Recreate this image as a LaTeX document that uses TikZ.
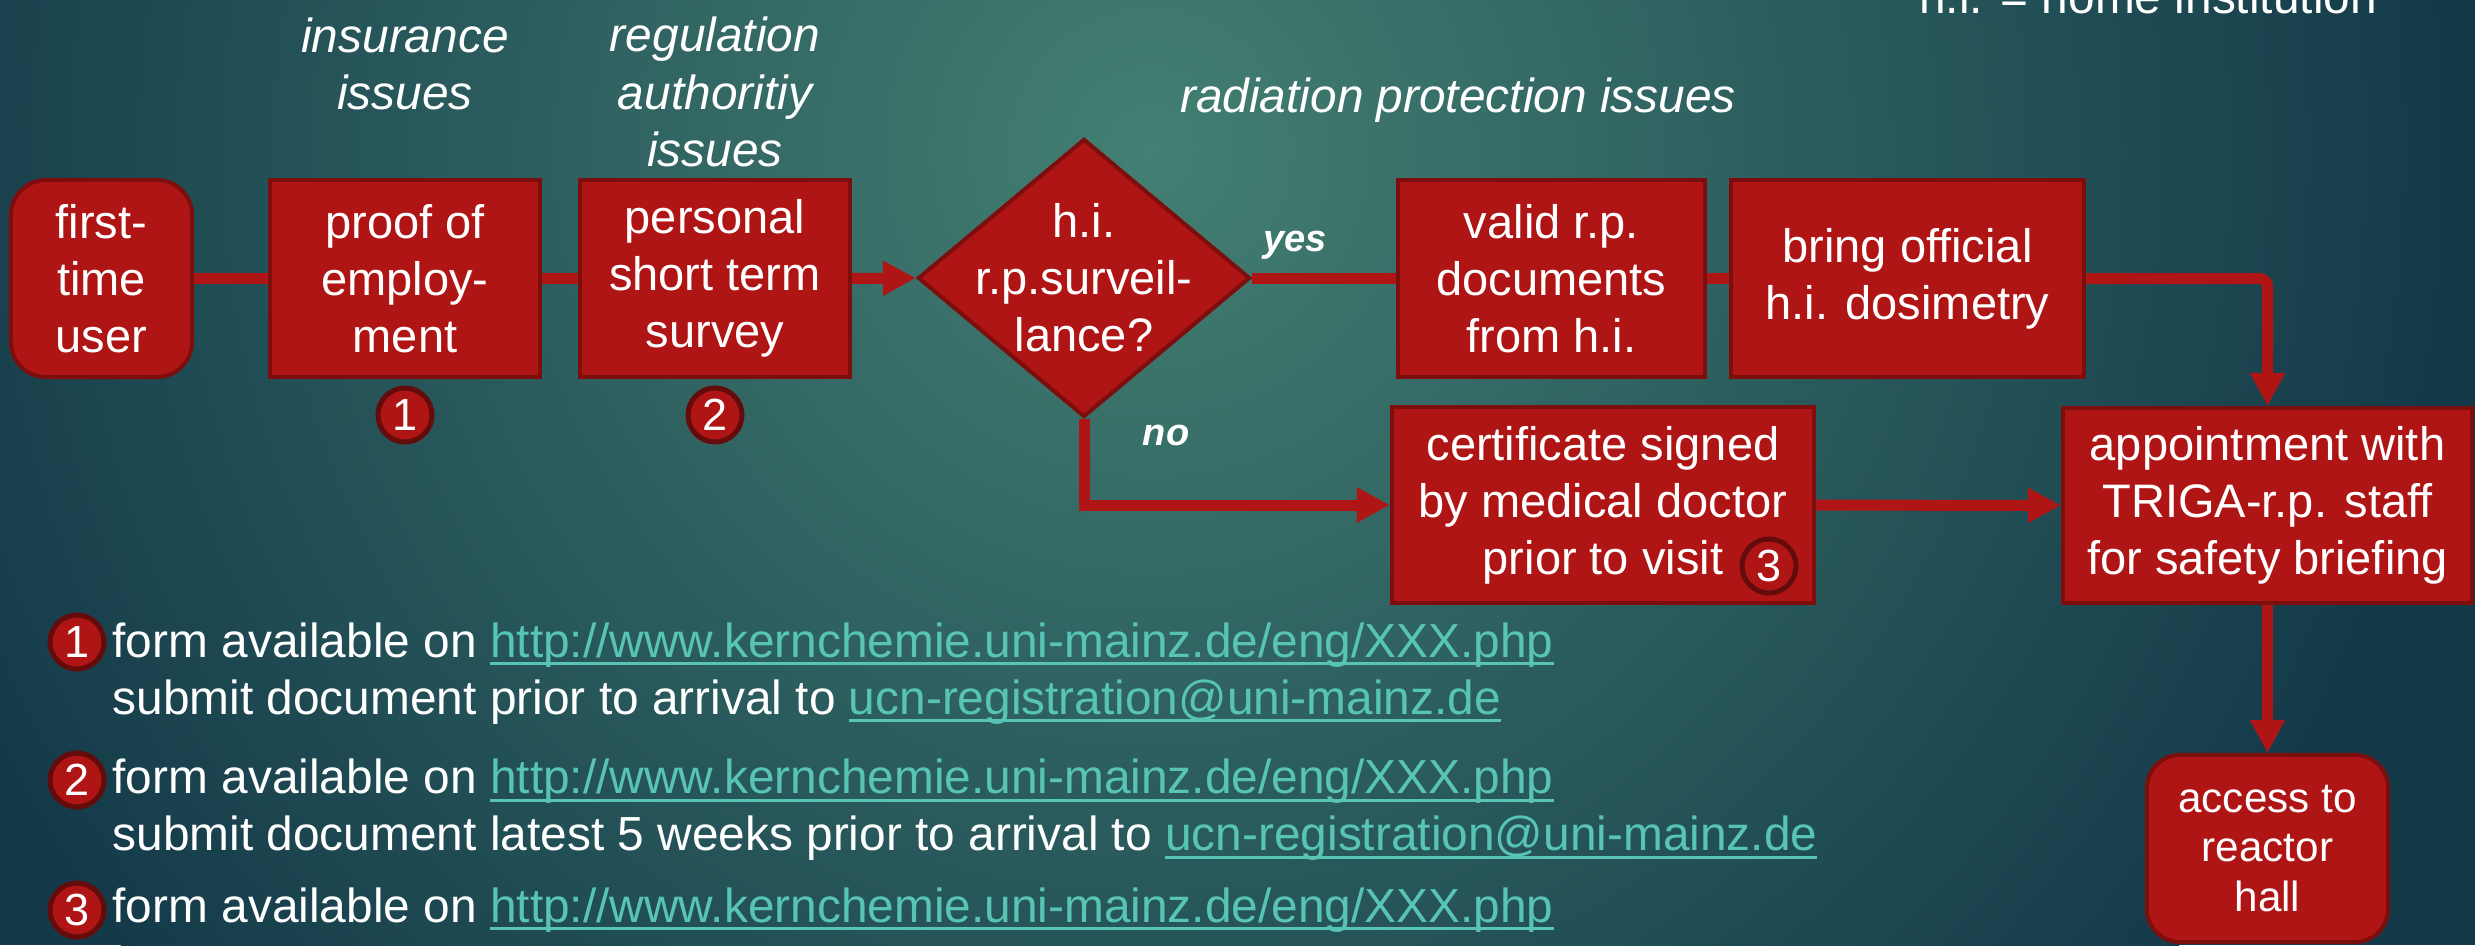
\documentclass[tikz,border=0pt]{standalone}
\usepackage{fontspec}
\setmainfont{Liberation Sans}
\usetikzlibrary{shapes.geometric,arrows.meta}
\definecolor{boxred}{RGB}{176,21,21}
\definecolor{boxedge}{RGB}{125,14,14}
\definecolor{ringc}{RGB}{100,12,12}
\definecolor{bglight}{RGB}{67,127,114}
\definecolor{bgdark}{RGB}{20,58,73}
\definecolor{linkc}{RGB}{88,196,182}
\newcommand\weblink[1]{{\color{linkc}\setbox0\hbox{#1}\rlap{\rule[-0.08cm]{\wd0}{0.03cm}}\box0}}
\begin{document}
\begin{tikzpicture}[x=0.01cm,y=-0.01cm,
  box/.style={draw=boxedge, line width=0.04cm, fill=boxred, text=white, align=center, inner sep=0pt, font=\fontsize{13.37pt}{16.2pt}\selectfont},
  rbox/.style={box, rounded corners=0.35cm},
  boxtext/.style={text=white, align=center, inner sep=0pt, font=\fontsize{13.37pt}{16.2pt}\selectfont},
  decision/.style={diamond, draw=boxedge, line width=0.04cm, fill=boxred, inner sep=0pt},
  num/.style={circle, draw=ringc, line width=0.05cm, fill=boxred, text=white, minimum size=0.54cm, inner sep=0pt, font=\fontsize{12.8pt}{12.8pt}\selectfont},
  issue/.style={text=white, align=center, inner sep=0pt, font=\fontsize{13.6pt}{16.4pt}\selectfont\itshape},
  flow/.style={draw=boxred, line width=0.11cm},
  arr/.style={flow, -{Triangle[length=0.33cm,width=0.33cm]}},
  yn/.style={text=white, inner sep=0pt, font=\fontsize{10.8pt}{12pt}\selectfont\bfseries\itshape},
  note/.style={text=white, align=left, anchor=west, inner sep=0pt, font=\fontsize{13.6pt}{16.2pt}\selectfont}]
\useasboundingbox (0,0) rectangle (2475,945);
\fill[bgdark] (0,0) rectangle (2475,945);
\begin{scope}
\clip (0,0) rectangle (2475,945);
\shade[inner color=bglight, outer color=bgdark] (1150,150) circle (13cm);
\end{scope}
% nodes
\node[rbox, minimum width=1.81cm, minimum height=1.97cm] (user) at (101.5,278.5) {first-\\time\\user};
\node[box, minimum width=2.70cm, minimum height=1.97cm] (proof) at (405,278.5) {proof of\\employ-\\ment};
\node[box, minimum width=2.70cm, minimum height=1.97cm] (survey) at (715,278.5) {personal\\short term\\survey};
\node[decision, minimum width=3.32cm, minimum height=2.78cm] (dec) at (1084,278) {};
\node[boxtext] (dectext) at (1084,278) {h.i.\\r.p.surveil-\\lance?};
\node[box, minimum width=3.07cm, minimum height=1.97cm] (valid) at (1551.5,278.5) {valid r.p.\\documents\\from h.i.};
\node[box, minimum width=3.53cm, minimum height=1.97cm] (bring) at (1907.5,278.5) {bring official\\h.i. dosimetry};
\node[box, minimum width=4.22cm, minimum height=1.96cm] (cert) at (1603,505) {certificate signed\\by medical doctor\\prior to visit};
\node[box, minimum width=4.09cm, minimum height=1.95cm] (appt) at (2267.5,505.5) {appointment with\\TRIGA-r.p. staff\\for safety briefing};
\node[rbox, rounded corners=0.33cm, minimum width=2.41cm, minimum height=1.87cm, font=\fontsize{12pt}{14.2pt}\selectfont] (access) at (2267.5,848.5) {access to\\reactor\\hall};
% numbered circles
\node[num] (c1) at (405,415) {1};
\node[num] (c2) at (715,415) {2};
\node[num] (c3) at (1769,566) {3};
\node[num] (n1) at (77,642) {1};
\node[num] (n2) at (77,780) {2};
\node[num] (n3) at (77,910) {3};
% headings
\node[issue] (ins) at (405,64) {insurance\\issues};
\node[issue] (reg) at (715,92) {regulation\\authoritiy\\issues};
\node[issue] (rad) at (1458,100) {radiation protection issues};
\node[issue, font=\fontsize{13.6pt}{16.4pt}\selectfont, anchor=base] (hi) at (2148,13) {h.i. = home institution};
\node[yn] (yes) at (1295,245) {yes};
\node[yn] (no) at (1166,435) {no};
% notes
\node[note] (t1) at (112,673.5) {form available on \weblink{http://www.kernchemie.uni-mainz.de/eng/XXX.php}\\submit document prior to arrival to \weblink{ucn-registration@uni-mainz.de}};
\node[note] (t2) at (112,810) {form available on \weblink{http://www.kernchemie.uni-mainz.de/eng/XXX.php}\\submit document latest 5 weeks prior to arrival to \weblink{ucn-registration@uni-mainz.de}};
\node[note] (t3) at (112,910) {form available on \weblink{http://www.kernchemie.uni-mainz.de/eng/XXX.php}};
% connectors
\draw[flow] (user) -- (proof);
\draw[flow] (proof) -- (survey);
\draw[arr] (survey.east) -- (dec.west);
\draw[flow] (dec.east) -- (dec.east -| valid.west);
\draw[flow] (valid) -- (bring);
\draw[arr, rounded corners=0.08cm] (bring.east) -| (appt.north);
\draw[arr] (dec.south) |- (cert.west);
\draw[arr] (cert) -- (appt);
\draw[arr] (appt) -- (access);
\end{tikzpicture}
\end{document}
